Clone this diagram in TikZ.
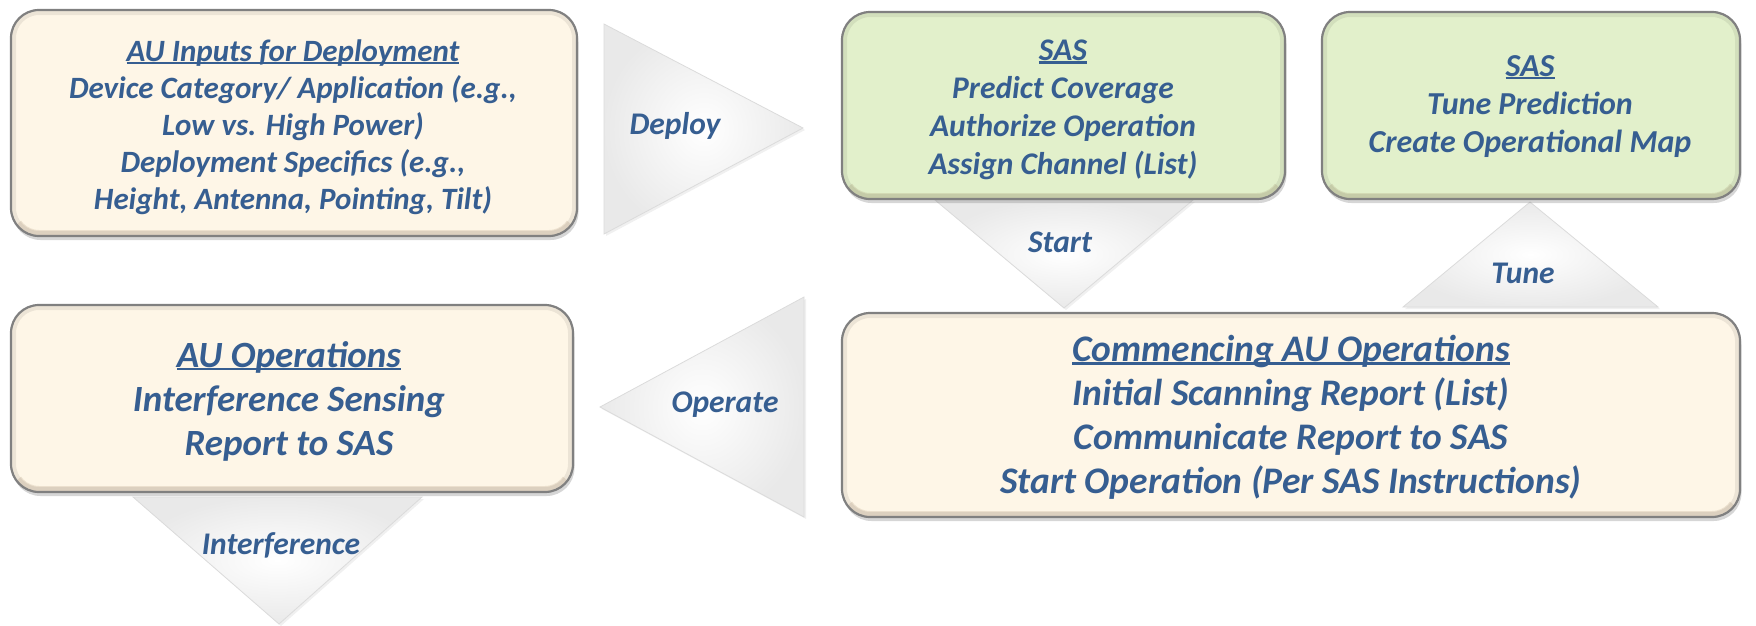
\documentclass[tikz,border=0pt]{standalone}
\usepackage{fontspec}
\setmainfont{Carlito}
\usetikzlibrary{shadows}
\definecolor{txt}{RGB}{54,94,145}
\definecolor{cream}{RGB}{254,246,231}
\definecolor{sasgreen}{RGB}{226,240,203}
\definecolor{rim}{RGB}{128,128,128}
\newsavebox\ulbox
\newcommand{\ulhead}[1]{\sbox\ulbox{#1}\rlap{\rule[-0.09em]{\wd\ulbox}{0.075em}}\usebox\ulbox}
\tikzset{
  box/.style={rounded corners=28pt, draw=rim, line width=2.2pt, inner sep=0pt,
    drop shadow={shadow xshift=1.5pt, shadow yshift=-4pt, opacity=0.32},
    path picture={
      \draw[rounded corners=28pt, line width=10pt, draw=black, opacity=0.07]
        (path picture bounding box.south west) rectangle (path picture bounding box.north east);
      \begin{scope}
        \clip (path picture bounding box.south west) rectangle ([yshift=22pt]path picture bounding box.south east);
        \draw[rounded corners=28pt, line width=12pt, draw=brown!60!black, opacity=0.13]
          (path picture bounding box.south west) rectangle (path picture bounding box.north east);
      \end{scope}
    }},
  boxtext/.style={align=center, text=txt, inner sep=0pt},
  tri/.style={draw=gray!28, line width=0.8pt, inner color=white, outer color=gray!17,
    drop shadow={shadow xshift=2pt, shadow yshift=-2pt, opacity=0.12}},
  lab/.style={text=txt, font=\fontsize{31.5}{36}\selectfont\bfseries\itshape},
}
\begin{document}
\begin{tikzpicture}[x=1pt,y=-1pt]
\useasboundingbox (0,0) rectangle (1756,625);
% triangles (connectors)
\coordinate (dA) at (604,24); \coordinate (dB) at (604,234); \coordinate (dT) at (803,128);
\path[tri] (dA) -- (dT) -- (dB) -- cycle;
\coordinate (sA) at (935,200); \coordinate (sB) at (1193,200); \coordinate (sT) at (1064,308);
\path[tri] (sA) -- (sB) -- (sT) -- cycle;
\coordinate (tA) at (1403,307); \coordinate (tB) at (1658,307); \coordinate (tT) at (1530,202);
\path[tri] (tA) -- (tB) -- (tT) -- cycle;
\coordinate (oA) at (804,297); \coordinate (oB) at (804,517); \coordinate (oT) at (600,407);
\path[tri] (oA) -- (oB) -- (oT) -- cycle;
\coordinate (iA) at (133,497); \coordinate (iB) at (422,497); \coordinate (iT) at (279,624);
\path[tri] (iA) -- (iB) -- (iT) -- cycle;
% boxes
\node[box, fill=cream, minimum width=566pt, minimum height=226pt] (inputs) at (294,123) {};
\node[box, fill=sasgreen, minimum width=443pt, minimum height=187pt] (sas1) at (1063.5,105.5) {};
\node[box, fill=sasgreen, minimum width=418pt, minimum height=187pt] (sas2) at (1531,105.5) {};
\node[box, fill=cream, minimum width=898pt, minimum height=204pt] (comm) at (1291,415) {};
\node[box, fill=cream, minimum width=562pt, minimum height=187pt] (ops) at (292,398.5) {};
% box texts
\node[boxtext, font=\fontsize{31}{37}\selectfont\bfseries\itshape] (inputsT) at (293,127)
  {\ulhead{AU Inputs for Deployment}\\Device Category/ Application (e.g.,\\Low vs. High Power)\\Deployment Specifics (e.g.,\\Height, Antenna, Pointing, Tilt)};
\node[boxtext, font=\fontsize{31.5}{38}\selectfont\bfseries\itshape] (sas1T) at (1063,110)
  {\ulhead{SAS}\\Predict Coverage\\Authorize Operation\\Assign Channel (List)};
\node[boxtext, font=\fontsize{32}{38}\selectfont\bfseries\itshape] (sas2T) at (1530,106.5)
  {\ulhead{SAS}\\Tune Prediction\\Create Operational Map};
\node[boxtext, font=\fontsize{37.5}{44}\selectfont\bfseries\itshape] (commT) at (1291,417)
  {\ulhead{Commencing AU Operations}\\Initial Scanning Report (List)\\Communicate Report to SAS\\Start Operation (Per SAS Instructions)};
\node[boxtext, font=\fontsize{37}{44}\selectfont\bfseries\itshape] (opsT) at (289,401)
  {\ulhead{AU Operations}\\Interference Sensing\\Report to SAS};
% labels
\node[lab] (deploy) at (675,126) {Deploy};
\node[lab] (start) at (1060,242) {Start};
\node[lab] (tune) at (1523,273) {Tune};
\node[lab] (operate) at (725,405) {Operate};
\node[lab] (interf) at (281,545) {Interference};
\end{tikzpicture}
\end{document}
